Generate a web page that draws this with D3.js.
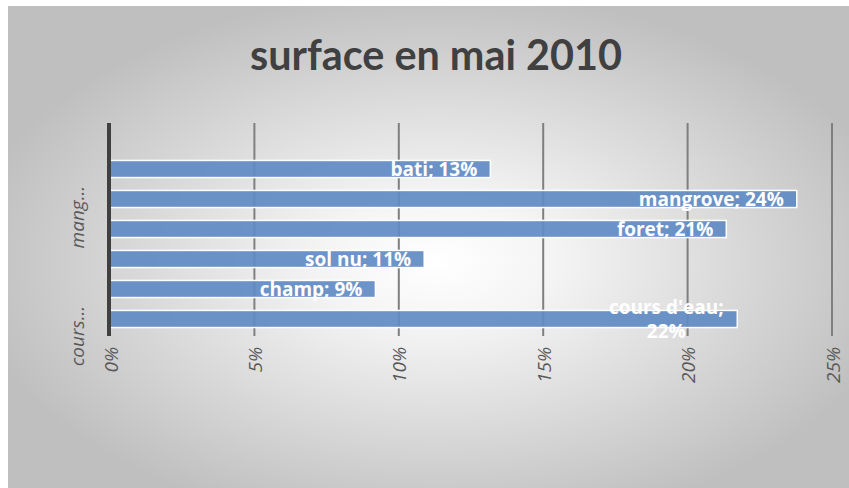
<!DOCTYPE html>
<html>
<head>
<meta charset="utf-8">
<script src="https://cdn.jsdelivr.net/npm/d3@7/dist/d3.min.js"></script>
<style>
html,body{margin:0;padding:0;background:#fff;}
svg{display:block;}
</style>
</head>
<body>
<svg id="chart" width="849" height="488"></svg>
<script>
// ---- data ----
const title = "surface en mai 2010";
const categories = ["bati", "mangrove", "foret", "sol nu", "champ", "cours d'eau"];
const values = [0.1317, 0.2378, 0.2134, 0.1088, 0.0919, 0.2172];
const tickValues = [0, 0.05, 0.10, 0.15, 0.20, 0.25];
const tickLabels = ["0%", "5%", "10%", "15%", "20%", "25%"];
const categoryAxisCats = ["mangrove", "cours d'eau"];
const categoryAxisLabels = ["mang...", "cours..."];
const wrappedLabels = ["cours d'eau"];

const W = 849, H = 488;
const svg = d3.select("#chart");
const defs = svg.append("defs");
const grad = defs.append("radialGradient").attr("id", "bg")
  .attr("cx", "51%").attr("cy", "53%").attr("r", "56%");
grad.append("stop").attr("offset", "0%").attr("stop-color", "#ffffff");
grad.append("stop").attr("offset", "25%").attr("stop-color", "#f4f4f4");
grad.append("stop").attr("offset", "100%").attr("stop-color", "#bfbfbf");

svg.append("rect").attr("x", 0).attr("y", 0).attr("width", W).attr("height", H).attr("fill", "#ffffff");
svg.append("rect").attr("x", 8).attr("y", 6).attr("width", W - 8).attr("height", H - 6).attr("fill", "url(#bg)");

const plotTop = 123, plotBottom = 334;
const x = d3.scaleLinear().domain([0, 0.25]).range([110, 832]);
const y = d3.scaleBand().domain(categories).range([154, 334]).paddingInner(0.43).paddingOuter(0.215);

// title
const titleFont = "Lato, 'Open Sans', 'DejaVu Sans', sans-serif";
const smallFont = "'Open Sans', 'DejaVu Sans', sans-serif";
const t = svg.append("text").attr("x", 436).attr("y", 70)
  .attr("text-anchor", "middle").attr("font-family", titleFont)
  .attr("font-weight", "bold").attr("font-size", 36).attr("fill", "#404040").text(title);
const tw = t.node().getComputedTextLength();
t.attr("font-size", 36 * 372 / tw);

// gridlines
svg.append("g").selectAll("line").data(tickValues.slice(1)).join("line")
  .attr("x1", d => x(d)).attr("x2", d => x(d))
  .attr("y1", plotTop).attr("y2", plotBottom + 2)
  .attr("stroke", "#7f7f7f").attr("stroke-width", 2);

// bars
svg.append("g").selectAll("rect").data(categories).join("rect")
  .attr("x", x(0)).attr("y", d => y(d))
  .attr("width", (d, i) => x(values[i]) - x(0))
  .attr("height", y.bandwidth())
  .attr("fill", "#5f8bc4").attr("fill-opacity", 0.92)
  .attr("stroke", "#ffffff").attr("stroke-width", 1.5);

// category axis line
svg.append("line").attr("x1", 109).attr("x2", 109)
  .attr("y1", plotTop).attr("y2", plotBottom + 2)
  .attr("stroke", "#404040").attr("stroke-width", 4);

// tick labels
const xAxis = d3.axisBottom(x).tickValues(tickValues).tickFormat((d, i) => tickLabels[i]).tickSize(0);
const gx = svg.append("g").attr("transform", `translate(0,${plotBottom})`).call(xAxis);
gx.select(".domain").remove();
gx.selectAll("text")
  .attr("font-family", smallFont).attr("font-style", "italic").attr("font-size", 19)
  .attr("fill", "#595959")
  .attr("text-anchor", "end")
  .attr("dy", null).attr("y", null)
  .attr("transform", "translate(7,13) rotate(-90)");

// category labels
svg.append("g").selectAll("text").data(categoryAxisCats).join("text")
  .attr("transform", d => `translate(84,${y(d) + y.bandwidth() / 2 - 13}) rotate(-90)`)
  .attr("text-anchor", "end")
  .attr("font-family", smallFont).attr("font-style", "italic").attr("font-size", 19)
  .attr("fill", "#595959")
  .text((d, i) => categoryAxisLabels[i]);

// data labels
const lg = svg.append("g").attr("font-family", smallFont).attr("font-weight", "bold")
  .attr("font-size", 19).attr("fill", "#ffffff");
categories.forEach((c, i) => {
  const pct = d3.format(".0%")(values[i]);
  const cy = y(c) + y.bandwidth() / 2;
  if (wrappedLabels.includes(c)) {
    const txt = lg.append("text").attr("text-anchor", "middle");
    const cx = x(values[i]) - 71;
    txt.append("tspan").attr("x", cx).attr("y", cy - 5).text(c + ";");
    txt.append("tspan").attr("x", cx).attr("y", cy + 19).text(pct);
  } else {
    lg.append("text").attr("text-anchor", "end")
      .attr("x", x(values[i]) - 13).attr("y", cy + 7)
      .text(c + "; " + pct);
  }
});
</script>
</body>
</html>
